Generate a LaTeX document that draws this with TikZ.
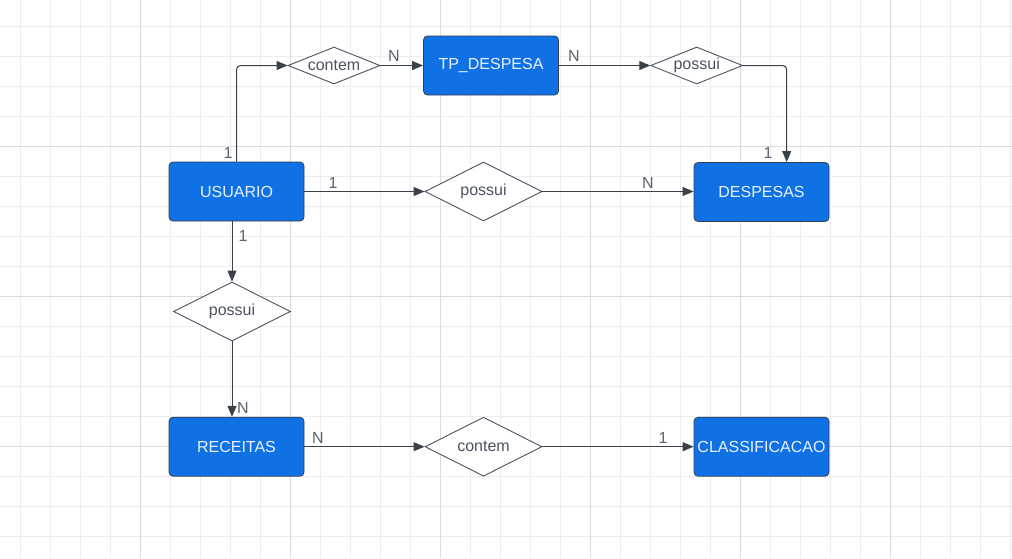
\documentclass[tikz,border=0pt]{standalone}
\usepackage{fontspec}
\setmainfont{Liberation Sans}
\usetikzlibrary{calc,shapes.geometric,arrows.meta}
\definecolor{gridminor}{HTML}{EDEDED}
\definecolor{gridmajor}{HTML}{DCDCDC}
\definecolor{entfill}{HTML}{1071E5}
\definecolor{entline}{HTML}{34404F}
\definecolor{enttext}{HTML}{E9F1FD}
\definecolor{relline}{HTML}{4B5260}
\definecolor{conncol}{HTML}{3A414A}
\definecolor{cardcol}{HTML}{5B6270}
\tikzset{
	entity/.style={draw=entline, fill=entfill, line width=0.8pt, rounded corners=4pt, minimum width=135pt, minimum height=59pt, inner sep=0pt, text=enttext, font=\fontsize{16pt}{19pt}\selectfont},
	relsmall/.style={draw=relline, fill=white, line width=0.9pt, shape=diamond, aspect=3, inner sep=0pt, minimum width=92pt, minimum height=37pt, text=relline, font=\fontsize{16pt}{19pt}\selectfont},
	relbig/.style={relsmall, minimum width=117pt, minimum height=59pt},
	conn/.style={draw=conncol, line width=1pt, rounded corners=4pt, -{Triangle[length=11pt, width=9pt]}},
	card/.style={text=cardcol, inner sep=0pt, font=\fontsize{16pt}{19pt}\selectfont},
}
\begin{document}
\begin{tikzpicture}[x=1pt, y=-1pt]
		%%%%% GRID %%%%%
		\useasboundingbox[fill=white] (0, 0) rectangle (1012, 558);
		\foreach \gx in {20, 50, ..., 1010}
			\draw[gridminor, line width=1pt] (\gx, 0) -- (\gx, 558);
		\foreach \gy in {26.7, 56.7, ..., 556}
			\draw[gridminor, line width=1pt] (0, \gy) -- (1012, \gy);
		\foreach \gx in {140, 290, ..., 1000}
			\draw[gridmajor, line width=1pt] (\gx, 0) -- (\gx, 558);
		\foreach \gy in {146.7, 296.7, 446.7}
			\draw[gridmajor, line width=1pt] (0, \gy) -- (1012, \gy);
		
		%%%%% ENTITIES %%%%%
		\node[entity] (usuario) at (236.5, 191.5) {USUARIO};
		\node[entity] (tpdespesa) at (491, 65.5) {TP\_DESPESA};
		\node[entity] (despesas) at (761.5, 192) {DESPESAS};
		\node[entity] (receitas) at (236.5, 446.7) {RECEITAS};
		\node[entity] (classif) at (761.5, 446.7) {CLASSIFICACAO};
		
		%%%%% RELATIONS %%%%%
		\node[relsmall] (contemtop) at (334, 65.5) {contem};
		\node[relsmall] (possuitop) at (696.7, 65.5) {possui};
		\node[relbig] (possuimid) at (483.5, 191.5) {possui};
		\node[relbig] (possuileft) at (232, 311.5) {possui};
		\node[relbig] (contembot) at (483.5, 446.7) {contem};
		
		%%%%% CONNECTORS %%%%%
		\draw[conn] (usuario.north) |- (contemtop.west);
		\draw[conn] (contemtop.east) -- (tpdespesa.west);
		\draw[conn] (tpdespesa.east) -- (possuitop.west);
		\coordinate (despin) at (786.7, 162);
		\draw[conn] (possuitop.east) -| (despin);
		\draw[conn] (usuario.east) -- (possuimid.west);
		\draw[conn] (possuimid.east) -- (despesas.west |- possuimid.east);
		\draw[conn] (usuario.south -| possuileft.north) -- (possuileft.north);
		\draw[conn] (possuileft.south) -- (receitas.north -| possuileft.south);
		\draw[conn] (receitas.east) -- (contembot.west);
		\draw[conn] (contembot.east) -- (classif.west);
		
		%%%%% CARDINALITIES %%%%%
		\node[card] (c1) at (228, 153) {1};
		\node[card] (c2) at (394, 56) {N};
		\node[card] (c3) at (574, 56) {N};
		\node[card] (c4) at (768, 153) {1};
		\node[card] (c5) at (333, 183) {1};
		\node[card] (c6) at (648, 183) {N};
		\node[card] (c7) at (243, 236) {1};
		\node[card] (c8) at (243, 408) {N};
		\node[card] (c9) at (318, 438) {N};
		\node[card] (c10) at (663, 438) {1};
		
		%%%%% END %%%%%
	\end{tikzpicture}
\end{document}
